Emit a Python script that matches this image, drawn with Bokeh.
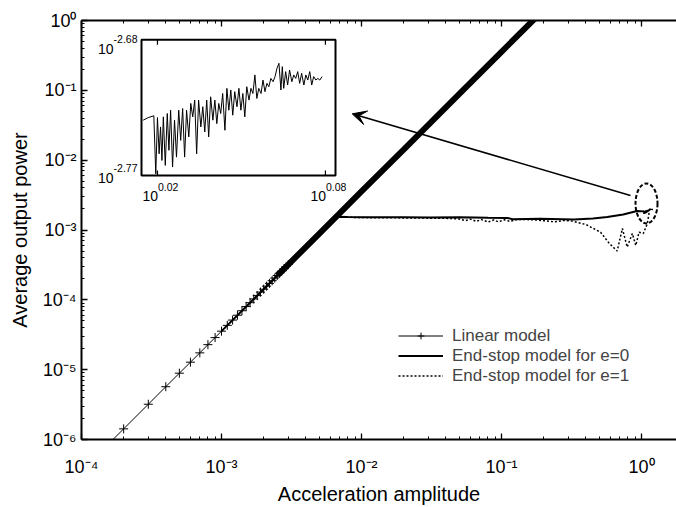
import math
from bokeh.plotting import figure
from bokeh.models import (Range1d, LogScale, LogAxis, FixedTicker, Label, Arrow,
                          VeeHead, CustomJSTickFormatter)
from bokeh.embed import file_html
from bokeh.resources import INLINE

# ---------------- data ----------------
# Linear model: sample points (markers) and the dense upper part
lin_a = [1e-4, 2e-4, 3e-4, 4e-4, 5e-4, 6e-4, 7e-4, 8e-4, 9e-4, 1.0e-3,
         1.1e-3, 1.2e-3, 1.3e-3, 1.4e-3, 1.5e-3, 1.6e-3, 1.7e-3, 1.8e-3, 1.9e-3, 2.0e-3,
         2.1e-3, 2.2e-3, 2.3e-3, 2.4e-3, 2.5e-3, 2.6e-3, 2.7e-3, 2.8e-3, 2.9e-3, 3.0e-3]
lin_p = [3.56e-7, 1.42e-6, 3.20e-6, 5.70e-6, 8.90e-6, 1.28e-5, 1.74e-5, 2.28e-5, 2.88e-5, 3.56e-5,
         4.31e-5, 5.13e-5, 6.02e-5, 6.98e-5, 8.01e-5, 9.11e-5, 1.03e-4, 1.15e-4, 1.29e-4, 1.42e-4,
         1.57e-4, 1.72e-4, 1.88e-4, 2.05e-4, 2.23e-4, 2.41e-4, 2.60e-4, 2.79e-4, 2.99e-4, 3.20e-4]
band_a = [2.5e-3, 3e-3, 4e-3, 5e-3, 7e-3, 1e-2, 2e-2, 5e-2, 0.1, 0.2]
band_p = [2.23e-4, 3.20e-4, 5.70e-4, 8.90e-4, 1.74e-3, 3.56e-3, 1.42e-2, 8.90e-2, 0.356, 1.42]

# End-stop model, e = 0 (solid)
e0_a = [1e-3, 2e-3, 4e-3, 6.6e-3, 0.008, 0.01, 0.02, 0.03, 0.05, 0.08, 0.11, 0.12,
        0.19, 0.33, 0.45, 0.57, 0.74, 0.93]
e0_p = [3.56e-5, 1.42e-4, 5.70e-4, 1.55e-3, 1.53e-3, 1.52e-3, 1.52e-3, 1.51e-3, 1.52e-3,
        1.50e-3, 1.49e-3, 1.43e-3, 1.45e-3, 1.41e-3, 1.46e-3, 1.53e-3, 1.67e-3, 1.87e-3]

# End-stop model, e = 1 (dotted)
e1_a = [1e-3, 2e-3, 4e-3, 6.6e-3, 0.008, 0.012, 0.02, 0.04, 0.05, 0.055, 0.06, 0.066,
        0.072, 0.08, 0.088, 0.095, 0.105, 0.115, 0.13, 0.17, 0.2, 0.24, 0.28, 0.32,
        0.4, 0.51, 0.59, 0.67, 0.73, 0.79, 0.86, 0.91, 0.96, 1.03, 1.10, 1.14, 1.16]
e1_p = [3.56e-5, 1.42e-4, 5.70e-4, 1.55e-3, 1.52e-3, 1.50e-3, 1.49e-3, 1.47e-3, 1.44e-3,
        1.36e-3, 1.43e-3, 1.33e-3, 1.41e-3, 1.30e-3, 1.39e-3, 1.31e-3, 1.40e-3, 1.33e-3,
        1.42e-3, 1.40e-3, 1.36e-3, 1.31e-3, 1.37e-3, 1.34e-3, 1.20e-3, 9.3e-4, 6.4e-4,
        5.0e-4, 1.05e-3, 5.7e-4, 8.9e-4, 6.0e-4, 9.3e-4, 8.9e-4, 1.23e-3, 1.9e-3, 2.1e-3]

# Inset: zoom of the e = 0 curve near its end (log10 values)
inset_log_a = [0.0149, 0.0167, 0.0187, 0.0194, 0.0200, 0.0206, 0.0211, 0.0216, 0.0221, 0.0228,
               0.0235, 0.0241, 0.0247, 0.0254, 0.0261, 0.0268, 0.0276, 0.0283, 0.0290, 0.0297,
               0.0304, 0.0312, 0.0319, 0.0326, 0.0333, 0.0340, 0.0347, 0.0355, 0.0362, 0.0369,
               0.0376, 0.0383, 0.0390, 0.0398, 0.0405, 0.0412, 0.0419, 0.0426, 0.0433, 0.0441,
               0.0448, 0.0455, 0.0462, 0.0469, 0.0476, 0.0484, 0.0491, 0.0498, 0.0505, 0.0512,
               0.0519, 0.0527, 0.0534, 0.0541, 0.0548, 0.0555, 0.0562, 0.0570, 0.0577, 0.0584,
               0.0591, 0.0598, 0.0605, 0.0613, 0.0620, 0.0627, 0.0634, 0.0641, 0.0646, 0.0651,
               0.0658, 0.0665, 0.0672, 0.0680, 0.0687, 0.0694, 0.0701, 0.0708, 0.0715, 0.0723,
               0.0730, 0.0737, 0.0744, 0.0751, 0.0758, 0.0766, 0.0773, 0.0780, 0.0788]
inset_log_p = [-2.7333, -2.7316, -2.7304, -2.7689, -2.7316, -2.7556, -2.7378, -2.7600, -2.7311, -2.7633,
               -2.7289, -2.7533, -2.7267, -2.7644, -2.7333, -2.7578, -2.7267, -2.7467, -2.7256, -2.7578,
               -2.7267, -2.7444, -2.7222, -2.7311, -2.7200, -2.7556, -2.7200, -2.7378, -2.7244, -2.7411,
               -2.7200, -2.7444, -2.7178, -2.7333, -2.7200, -2.7356, -2.7222, -2.7289, -2.7156, -2.7400,
               -2.7122, -2.7267, -2.7133, -2.7300, -2.7144, -2.7244, -2.7122, -2.7267, -2.7156, -2.7311,
               -2.7111, -2.7200, -2.7122, -2.7156, -2.7033, -2.7189, -2.7122, -2.7156, -2.7067, -2.7144,
               -2.7089, -2.7111, -2.7056, -2.7078, -2.7044, -2.6989, -2.6956, -2.7133, -2.6978, -2.7122,
               -2.7011, -2.7100, -2.7000, -2.7078, -2.7033, -2.7056, -2.7011, -2.7089, -2.7022, -2.7100,
               -2.7033, -2.7067, -2.7011, -2.7100, -2.7044, -2.7067, -2.7056, -2.7067, -2.7044]

# Tick labels (exponents)
x_tick_exps = ["-4", "-3", "-2", "-1", "0"]
y_tick_exps = ["-6", "-5", "-4", "-3", "-2", "-1", "0"]
inset_x_exps = ["0.02", "0.08"]
inset_y_exps = ["-2.77", "-2.68"]

# Annotation anchors (data units)
arrow_tail = (0.834, 3.12e-3)
arrow_head = (8.58e-3, 0.0461)
ellipse_center = (1.086, 2.4e-3)

# ---------------- layout constants ----------------
W, H = 676, 507
FL, FR, FT, FB = 81, 676, 20, 439          # frame box in pixels
X_LOG = (-4.0, 0.25)
Y_LOG = (-6.0, 0.0)
IX0, IX1, IYT, IYB = 141, 335, 39.3, 175   # inset box in pixels
IX_LOG = (0.0143, 0.0836)
IY_LOG = (-2.77, -2.68)
FONT = "Liberation Sans"

p = figure(width=W, height=H, x_axis_type="log", y_axis_type="log",
           x_range=Range1d(10 ** X_LOG[0], 10 ** X_LOG[1]),
           y_range=Range1d(10 ** Y_LOG[0], 10 ** Y_LOG[1]),
           output_backend="svg", toolbar_location=None,
           min_border_left=FL, min_border_right=W - FR,
           min_border_top=FT, min_border_bottom=H - FB)
p.outline_line_color = None
p.xgrid.visible = False
p.ygrid.visible = False
p.background_fill_color = "white"
p.border_fill_color = "white"

# inset ranges mapped onto the whole frame so the inset box lands where wanted
Dx = (IX1 - IX0) / (IX_LOG[1] - IX_LOG[0])
Dy = (IYB - IYT) / (IY_LOG[1] - IY_LOG[0])
p.extra_x_ranges = {"inx": Range1d(10 ** (IX_LOG[0] - (IX0 - FL) / Dx),
                                   10 ** (IX_LOG[1] + (FR - IX1) / Dx))}
p.extra_y_ranges = {"iny": Range1d(10 ** (IY_LOG[0] - (FB - IYB) / Dy),
                                   10 ** (IY_LOG[1] + (IYT - FT) / Dy))}
p.extra_x_scales = {"inx": LogScale()}
p.extra_y_scales = {"iny": LogScale()}

# ---------------- axes ----------------
SUP = str.maketrans("-0123456789", "\u207b\u2070\u00b9\u00b2\u00b3\u2074\u2075\u2076\u2077\u2078\u2079")
blank = CustomJSTickFormatter(code="return ''")
xk = [int(e) for e in x_tick_exps]
yk = [int(e) for e in y_tick_exps]
xticker = FixedTicker(ticks=[10.0 ** k for k in xk],
                      minor_ticks=[m * 10.0 ** k for k in xk for m in range(2, 10)])
yticker = FixedTicker(ticks=[10.0 ** k for k in yk],
                      minor_ticks=[m * 10.0 ** k for k in yk for m in range(2, 10)])


def style_axis(ax, ticker, exps=None):
    ax.ticker = ticker
    ax.formatter = blank
    ax.axis_line_width = 2
    ax.axis_line_color = "black"
    ax.major_tick_in = 6
    ax.major_tick_out = 0
    ax.minor_tick_in = 3
    ax.minor_tick_out = 0
    ax.major_tick_line_width = 1.3
    ax.minor_tick_line_width = 1
    ax.major_label_text_font = FONT
    ax.major_label_text_font_size = "18px"
    ax.major_label_text_color = "black"
    ax.axis_label_text_font = FONT
    ax.axis_label_text_font_size = "20px"
    ax.axis_label_text_font_style = "normal"
    ax.axis_label_text_color = "black"
    if exps is not None:
        ax.major_label_overrides = {10.0 ** int(e): "10" + e.translate(SUP) for e in exps}
    else:
        ax.major_label_text_font_size = "1px"
        ax.major_label_standoff = 0


xa = p.below[0]
ya = p.left[0]
style_axis(xa, xticker, x_tick_exps)
style_axis(ya, yticker, y_tick_exps)
xa.major_label_standoff = 17
xa.axis_label = "Acceleration amplitude"
xa.axis_label_standoff = 3
ya.major_label_standoff = 5
ya.axis_label = "Average output power"
ya.axis_label_standoff = 9
top_axis = LogAxis()
style_axis(top_axis, xticker)
p.add_layout(top_axis, "above")

# ---------------- glyphs ----------------
p.line(lin_a + band_a[2:], lin_p + band_p[2:], line_color="black", line_width=1,
       legend_label="Linear model")
p.scatter(lin_a, lin_p, marker="cross", size=9, line_color="black", line_width=1,
          legend_label="Linear model")
p.line(band_a, band_p, line_color="black", line_width=6)

e0_all_a = e0_a + [10 ** v for v in inset_log_a]
e0_all_p = e0_p + [10 ** v for v in inset_log_p]
p.line(e0_all_a, e0_all_p, line_color="black", line_width=2,
       legend_label="End-stop model for e=0")
p.line(e1_a, e1_p, line_color="black", line_width=1.5, line_dash="2 2",
       legend_label="End-stop model for e=1")

# dashed ellipse and arrow
p.ellipse(x=[ellipse_center[0]], y=[ellipse_center[1]], width=22, height=40,
          width_units="screen", height_units="screen", fill_color=None,
          line_color="black", line_width=2, line_dash="4 2")
p.add_layout(Arrow(end=VeeHead(size=14, fill_color="black", line_color="black"),
                   x_start=arrow_tail[0], y_start=arrow_tail[1],
                   x_end=arrow_head[0], y_end=arrow_head[1],
                   line_color="black", line_width=1.5))

# ---------------- inset ----------------
p.quad(left=[10 ** IX_LOG[0]], right=[10 ** IX_LOG[1]],
       bottom=[10 ** IY_LOG[0]], top=[10 ** IY_LOG[1]],
       x_range_name="inx", y_range_name="iny",
       fill_color="white", line_color="black", line_width=2)
n = min(len(inset_log_a), len(inset_log_p))
p.line([10 ** v for v in inset_log_a[:n]], [10 ** v for v in inset_log_p[:n]],
       x_range_name="inx", y_range_name="iny", line_color="black", line_width=1)
tick_len = 5
ixt = [10 ** float(e) for e in inset_x_exps]
ylo, yhi = 10 ** IY_LOG[0], 10 ** IY_LOG[1]
p.segment(x0=ixt + ixt, x1=ixt + ixt,
          y0=[ylo] * len(ixt) + [yhi] * len(ixt),
          y1=[ylo * 10 ** (tick_len / Dy)] * len(ixt) + [yhi / 10 ** (tick_len / Dy)] * len(ixt),
          x_range_name="inx", y_range_name="iny", line_color="black", line_width=1.2)

# inset tick labels (inside the main frame)
CW = {"-": 0.333, ".": 0.278}


def tw(s, size):
    return sum(CW.get(c, 0.556) for c in s) * size


def lab(text, x, y, size, xo=0.0, yo=0.0, align="left"):
    p.add_layout(Label(x=x, y=y, text=text, x_offset=xo, y_offset=yo,
                       text_align=align, text_baseline="middle",
                       text_font=FONT, text_font_size=f"{size}px", text_color="black",
                       x_range_name="inx", y_range_name="iny"))


IBIG, ISUP = 14, 10.5
for e in inset_x_exps:
    tot = tw("10", IBIG) + tw(e, ISUP)
    lab("10", 10 ** float(e), ylo, IBIG, xo=-tot / 2 + 3, yo=-20)
    lab(e, 10 ** float(e), ylo, ISUP, xo=-tot / 2 + 3 + tw("10", IBIG), yo=-11)
inset_y_offsets = [(-2, 8), (-9, 1)]
for e, (o10, oe) in zip(inset_y_exps, inset_y_offsets):
    we = tw(e, ISUP)
    lab(e, 10 ** IX_LOG[0], 10 ** float(e), ISUP, xo=-4, yo=oe, align="right")
    lab("10", 10 ** IX_LOG[0], 10 ** float(e), IBIG, xo=-4 - we, yo=o10, align="right")

# ---------------- legend ----------------
leg = p.legend[0]
leg.location = (317, 53.5)
leg.border_line_color = None
leg.background_fill_alpha = 0
leg.padding = 0
leg.margin = 0
leg.spacing = 0
leg.glyph_width = 45
leg.glyph_height = 17
leg.label_height = 17
leg.label_standoff = 9
leg.label_text_font = FONT
leg.label_text_font_size = "17px"

open("out.html", "w").write(file_html(p, INLINE))
